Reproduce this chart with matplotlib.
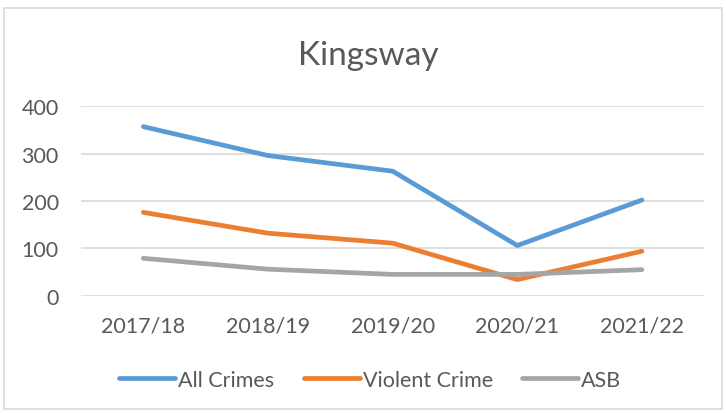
import matplotlib
matplotlib.use("Agg")
import matplotlib.pyplot as plt
from matplotlib.patches import Rectangle

# data
years = ["2017/18", "2018/19", "2019/20", "2020/21", "2021/22"]
all_crimes = [357, 296, 263, 106, 202]
violent_crime = [176, 132, 111, 34, 94]
asb = [79, 56, 45, 45, 55]

plt.rcParams['font.family'] = ['Lato', 'DejaVu Sans']

fig = plt.figure(figsize=(7.26, 4.14), dpi=100)
ax = fig.add_axes([0.1116, 0.2833, 0.8584, 0.4575])

x = range(len(years))
ax.plot(x, all_crimes, color='#5B9BD5', lw=3.4, solid_capstyle='round', solid_joinstyle='round', label='All Crimes')
ax.plot(x, violent_crime, color='#ED7D31', lw=3.4, solid_capstyle='round', solid_joinstyle='round', label='Violent Crime')
ax.plot(x, asb, color='#A5A5A5', lw=3.4, solid_capstyle='round', solid_joinstyle='round', label='ASB')

ax.set_xlim(-0.5, len(years) - 0.5)
ax.set_ylim(0, 400)
ax.set_yticks([0, 100, 200, 300, 400])
ax.set_xticks(list(x))
ax.set_xticklabels(years)
ax.grid(axis='y', color='#D9D9D9', lw=1.2)
ax.set_axisbelow(True)
for s in ax.spines.values():
    s.set_visible(False)
ax.tick_params(length=0, labelsize=15.5, colors='#595959')
ax.tick_params(axis='x', pad=14)
ax.tick_params(axis='y', pad=16)

fig.text(0.508, 0.865, "Kingsway", ha='center', va='center', fontsize=24, color='#595959')

leg = fig.legend(loc='center', bbox_to_anchor=(0.51, 0.08), ncol=3, frameon=False,
                 fontsize=15.5, handlelength=2.6, handletextpad=0.15, columnspacing=1.35)
for t in leg.get_texts():
    t.set_color('#595959')

fig.patches.append(Rectangle((4 / 726, 4 / 414), 718 / 726, 401 / 414, transform=fig.transFigure,
                             fill=False, edgecolor='#D9D9D9', lw=1.2))

fig.savefig("out.png", dpi=100)
